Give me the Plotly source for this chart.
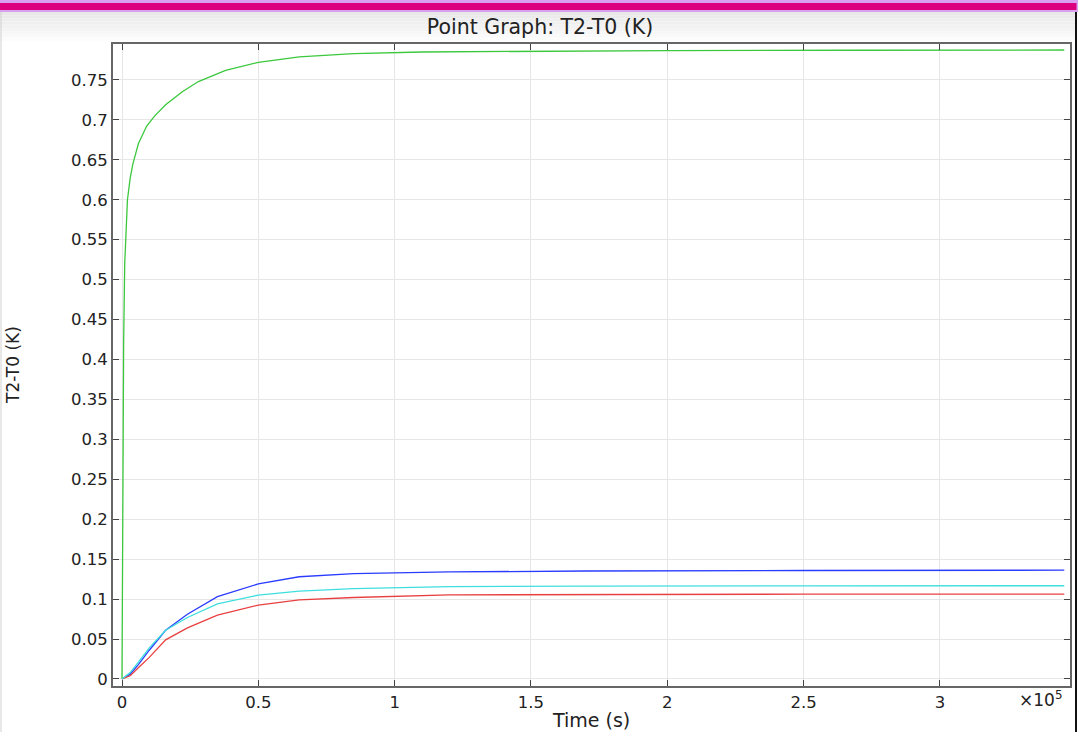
import plotly.graph_objects as go

# ---- data (time in s, temperature difference in K) ----
t_green = [0, 300, 600, 1000, 1500, 2000, 3000, 4000, 6000, 9000, 12000, 16000, 22000,
           28000, 38000, 50000, 65000, 85000, 110000, 150000, 200000, 270000, 345600]
v_green = [0, 0.25, 0.42, 0.52, 0.57, 0.60, 0.627, 0.645, 0.670, 0.692, 0.705, 0.719, 0.735,
           0.748, 0.762, 0.772, 0.779, 0.783, 0.785, 0.786, 0.7868, 0.7872, 0.7875]

t_lines = [0, 3000, 6000, 10000, 16000, 24000, 35000, 50000, 65000, 85000, 120000,
           170000, 250000, 345600]
v_blue = [0, 0.006, 0.018, 0.036, 0.061, 0.081, 0.103, 0.119, 0.128, 0.132, 0.134,
          0.1352, 0.1358, 0.1362]
v_cyan = [0, 0.008, 0.021, 0.039, 0.061, 0.077, 0.094, 0.105, 0.110, 0.113, 0.1155,
          0.1163, 0.1166, 0.1167]
v_red = [0, 0.004, 0.014, 0.027, 0.049, 0.064, 0.080, 0.0925, 0.099, 0.102, 0.1053,
         0.106, 0.1062, 0.1063]

x_tickvals = [0, 50000, 100000, 150000, 200000, 250000, 300000]
x_ticktext = ["0", "0.5", "1", "1.5", "2", "2.5", "3"]
y_tickvals = [0, 0.05, 0.1, 0.15, 0.2, 0.25, 0.3, 0.35, 0.4, 0.45, 0.5, 0.55, 0.6, 0.65, 0.7, 0.75]
y_ticktext = ["0", "0.05", "0.1", "0.15", "0.2", "0.25", "0.3", "0.35", "0.4", "0.45",
              "0.5", "0.55", "0.6", "0.65", "0.7", "0.75"]

W, H = 1080, 732
L, R, T, B = 113, 1070, 44, 686

def px(x):
    return (x - L) / (R - L)

def py(y):
    return (B - y) / (B - T)

FONT = "DejaVu Sans"

fig = go.Figure()
fig.add_trace(go.Scatter(x=t_lines, y=v_blue, mode="lines", line=dict(color="#2a3cff", width=1.3), showlegend=False))
fig.add_trace(go.Scatter(x=t_green, y=v_green, mode="lines", line=dict(color="#3cc83c", width=1.3), showlegend=False))
fig.add_trace(go.Scatter(x=t_lines, y=v_red, mode="lines", line=dict(color="#e84040", width=1.3), showlegend=False))
fig.add_trace(go.Scatter(x=t_lines, y=v_cyan, mode="lines", line=dict(color="#3fdede", width=1.3), showlegend=False))

shapes = []
# top gradient
n = 10
for i in range(n):
    y0 = 12 + i * 3.2
    g = int(232 + (255 - 232) * i / (n - 1))
    shapes.append(dict(type="rect", xref="paper", yref="paper", x0=px(0), x1=px(1076),
                       y0=py(y0 + 3.2), y1=py(y0), fillcolor=f"rgb({g},{g},{g})",
                       line=dict(width=0), layer="below"))
# pink bar with lavender border
shapes.append(dict(type="rect", xref="paper", yref="paper", x0=px(0), x1=px(1078), y0=py(12), y1=py(0),
                   fillcolor="#d9a0f0", line=dict(width=0)))
shapes.append(dict(type="rect", xref="paper", yref="paper", x0=px(0), x1=px(1076.5), y0=py(10), y1=py(3),
                   fillcolor="#dc007e", line=dict(width=0)))
# side borders
shapes.append(dict(type="line", xref="paper", yref="paper", x0=px(1076), x1=px(1076), y0=py(732), y1=py(12),
                   line=dict(color="#111111", width=2)))
shapes.append(dict(type="line", xref="paper", yref="paper", x0=px(1), x1=px(1), y0=py(732), y1=py(12),
                   line=dict(color="#d0d0d0", width=1)))

fig.update_layout(
    width=W, height=H,
    margin=dict(l=L, r=W - R, t=T, b=H - B, autoexpand=False),
    paper_bgcolor="white", plot_bgcolor="white",
    font=dict(family=FONT, color="#222222", size=16),
    title=dict(text="Point Graph: T2-T0 (K)", x=0.5, xref="container", xanchor="center",
               y=1 - 27 / H, yref="container", yanchor="middle", font=dict(size=20.5, family=FONT, color="#222")),
    shapes=shapes,
    annotations=[
        dict(text="×10<sup>5</sup>", xref="paper", yref="paper", x=px(1040), y=py(699),
             xanchor="center", yanchor="middle", showarrow=False, font=dict(size=17, family=FONT, color="#222")),
        dict(text="Time (s)", xref="paper", yref="paper", x=px(591), y=py(720),
             xanchor="center", yanchor="middle", showarrow=False, font=dict(size=19, family=FONT, color="#222")),
        dict(text="T2-T0 (K)", xref="paper", yref="paper", x=px(13), y=py(365), textangle=-90,
             xanchor="center", yanchor="middle", showarrow=False, font=dict(size=17, family=FONT, color="#222")),
    ],
)
fig.update_xaxes(
    range=[-3300, 347700], tickvals=x_tickvals, ticktext=x_ticktext, automargin=False,
    showgrid=True, gridcolor="#e6e6e6", gridwidth=1, zeroline=False,
    showline=True, linecolor="#666666", linewidth=2, mirror="ticks",
    ticks="inside", ticklen=6, tickcolor="#444444", tickwidth=1,
    tickfont=dict(size=16.5, family=FONT),
)
fig.update_yaxes(
    range=[-0.0088, 0.795], tickvals=y_tickvals, ticktext=y_ticktext, automargin=False,
    showgrid=True, gridcolor="#e6e6e6", gridwidth=1, zeroline=False,
    showline=True, linecolor="#666666", linewidth=2, mirror="ticks",
    ticks="inside", ticklen=6, tickcolor="#444444", tickwidth=1,
    tickfont=dict(size=16.5, family=FONT),
)

fig.write_html("out.html")
